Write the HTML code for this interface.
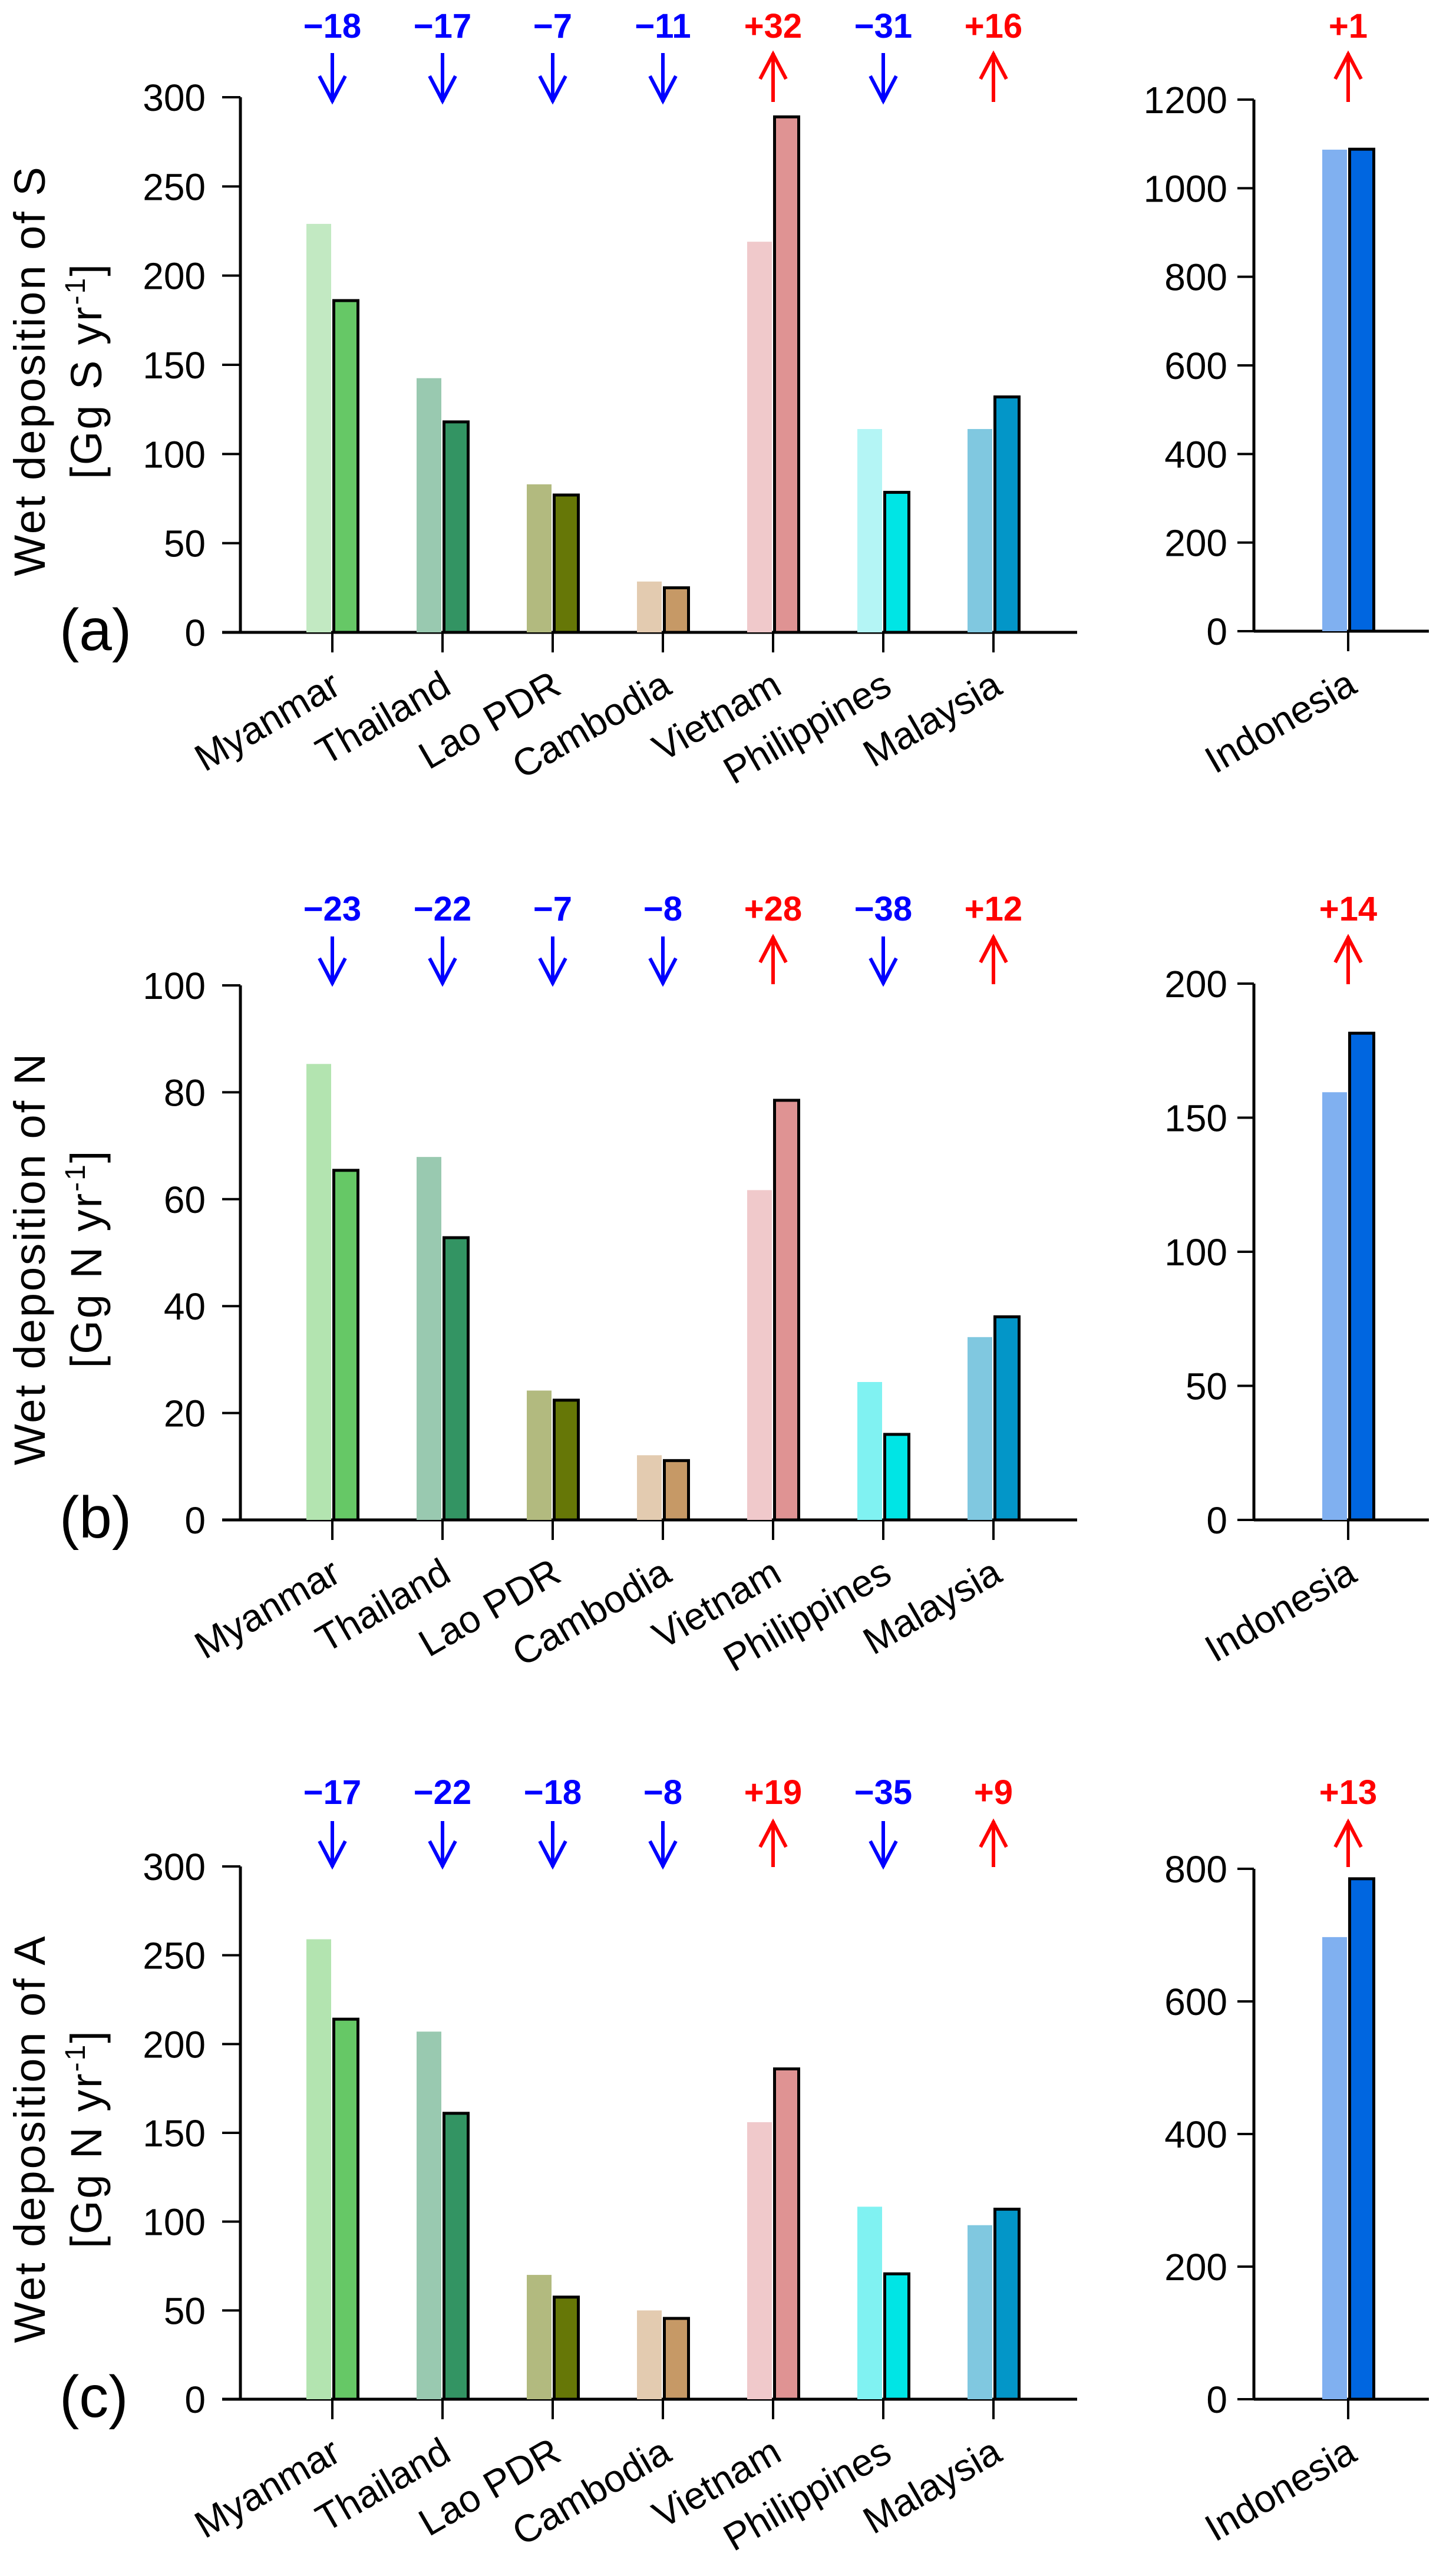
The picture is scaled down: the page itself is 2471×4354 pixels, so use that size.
<!DOCTYPE html>
<html><head><meta charset="utf-8"><style>
html,body{margin:0;padding:0;background:#fff}
svg{display:block}
text{font-family:"Liberation Sans",Arial,sans-serif}
</style></head><body>
<svg id="fig" width="2471" height="4354" viewBox="0 0 2471 4354" xmlns="http://www.w3.org/2000/svg"></svg>
<script>
const categories = ["Myanmar","Thailand","Lao PDR","Cambodia","Vietnam","Philippines","Malaysia"];
const rightCategory = ["Indonesia"];
const lightColors = ["#c2e9c2","#99c9b0","#b2ba7f","#e3cbb0","#f0c9cb","#b4f5f5","#80c8e0"];
const lightColorsBC = ["#b3e4b0","#99c9b0","#b2ba7f","#e3cbb0","#f0c9cb","#80f2f2","#80c8e0"];
const darkColors = ["#66c866","#339463","#667707","#c69966","#df9393","#00e5e5","#0396c8"];
const indoColors = ["#80b0f0","#0066e0"];

// Panel (a) sulfur
const aBase = [229,142.5,83,28.5,219,114,114];
const aNew  = [186,118,77,25,289,78.5,132];
const aIndo = [1087,1088];
const aPct  = ["−18","−17","−7","−11","+32","−31","+16"];
const aIndoPct = ["+1"];
const aTicks = [0,50,100,150,200,250,300];
const aTicksR = [0,200,400,600,800,1000,1200];
// Panel (b) nitrate
const bBase = [85.3,67.9,24.2,12.1,61.7,25.8,34.2];
const bNew  = [65.4,52.8,22.4,11.1,78.5,16,38];
const bIndo = [159.5,181.5];
const bPct  = ["−23","−22","−7","−8","+28","−38","+12"];
const bIndoPct = ["+14"];
const bTicks = [0,20,40,60,80,100];
const bTicksR = [0,50,100,150,200];
// Panel (c) ammonium
const cBase = [259,207,70,50,156,108.4,98];
const cNew  = [214,161,57.5,45.5,186,70.6,107];
const cIndo = [697,785];
const cPct  = ["−17","−22","−18","−8","+19","−35","+9"];
const cIndoPct = ["+13"];
const cTicks = [0,50,100,150,200,250,300];
const cTicksR = [0,200,400,600,800];

const NS="http://www.w3.org/2000/svg";
const svg=document.getElementById('fig');
function el(tag,attrs,parent,txt){const e=document.createElementNS(NS,tag);for(const k in attrs)e.setAttribute(k,attrs[k]);if(txt!==undefined)e.textContent=txt;(parent||svg).appendChild(e);return e;}

function arrow(g,x,yTop,yBot,up,color){
  el('line',{x1:x,y1:yTop,x2:x,y2:yBot,stroke:color,'stroke-width':6},g);
  if(up){el('polyline',{points:`${x-22},${yTop+44} ${x},${yTop+2} ${x+22},${yTop+44}`,fill:'none',stroke:color,'stroke-width':6},g);}
  else{el('polyline',{points:`${x-22},${yBot-44} ${x},${yBot-2} ${x+22},${yBot-44}`,fill:'none',stroke:color,'stroke-width':6},g);}
}

function panel(p){
  const g=el('g',{});
  
  
  const x0=408, xEnd=1828, c0=564, step=187;
  const yL=v=>p.y0-(v/p.max)*(p.y0-p.yTop);
  const yR=v=>p.y0r-(v/p.maxR)*(p.y0r-p.yTopR);
  const xC=i=>c0+i*step;
  const ax=el('g',{},g);
  
  
  el('line',{x1:x0,y1:yL(p.max),x2:x0,y2:p.y0,stroke:'#000','stroke-width':5},ax);
  p.ticks.forEach(t=>{
    el('line',{x1:377,y1:yL(t),x2:x0,y2:yL(t),stroke:'#000','stroke-width':4},ax);
    const tl=el('text',{x:349,y:yL(t)+23,'font-size':64,'text-anchor':'end'},ax,String(t));
    
    
  });
  const xa=el('line',{x1:377,y1:p.y0,x2:xEnd,y2:p.y0,stroke:'#000','stroke-width':5},g);
  
  
  categories.forEach((c,i)=>{
    const cx=xC(i);
    const b1=el('rect',{x:cx-44,y:yL(p.base[i]),width:42,height:p.y0-yL(p.base[i]),fill:p.light[i]},g);
    
    
    const b2=el('rect',{x:cx+2.5,y:yL(p.nw[i]),width:41,height:p.y0-yL(p.nw[i]),fill:darkColors[i],stroke:'#000','stroke-width':5},g);
    
    
    el('line',{x1:cx,y1:p.y0,x2:cx,y2:p.y0+34,stroke:'#000','stroke-width':4},g);
    const lb=el('text',{x:0,y:0,'font-size':65,'text-anchor':'end',transform:`translate(${cx+18},${p.y0+102}) rotate(-30)`},g,c);
    
    
    const up=p.pct[i].startsWith('+');
    const col=up?'#ff0000':'#0000ff';
    const pt=el('text',{x:cx,y:p.pctY,'font-size':58,'font-weight':'bold','text-anchor':'middle',fill:col},g,p.pct[i]);
    
    
    arrow(g,cx,p.arrTop,p.arrBot,up,col);
  });
  const xr=2128, xrEnd=2425, ci=2288;
  el('line',{x1:xr,y1:yR(p.maxR),x2:xr,y2:p.y0r,stroke:'#000','stroke-width':5},g);
  p.ticksR.forEach(t=>{
    el('line',{x1:xr-28,y1:yR(t),x2:xr,y2:yR(t),stroke:'#000','stroke-width':4},g);
    const tl=el('text',{x:xr-45,y:yR(t)+23,'font-size':64,'text-anchor':'end'},g,String(t));
    
    
  });
  el('line',{x1:xr,y1:p.y0r,x2:xrEnd,y2:p.y0r,stroke:'#000','stroke-width':5},g);
  const i1=el('rect',{x:ci-44,y:yR(p.indo[0]),width:42,height:p.y0r-yR(p.indo[0]),fill:indoColors[0]},g);
  
  
  const i2=el('rect',{x:ci+2.5,y:yR(p.indo[1]),width:41,height:p.y0r-yR(p.indo[1]),fill:indoColors[1],stroke:'#000','stroke-width':5},g);
  
  
  el('line',{x1:ci,y1:p.y0r,x2:ci,y2:p.y0r+34,stroke:'#000','stroke-width':4},g);
  const il=el('text',{x:0,y:0,'font-size':65,'text-anchor':'end',transform:`translate(${ci+18},${p.y0r+102}) rotate(-30)`},g,rightCategory[0]);
  
  
  const upI=p.indoPct[0].startsWith('+');
  const colI=upI?'#ff0000':'#0000ff';
  const ip=el('text',{x:ci,y:p.pctY,'font-size':58,'font-weight':'bold','text-anchor':'middle',fill:colI},g,p.indoPct[0]);
  
  
  arrow(g,ci,p.arrTop,p.arrBot,upI,colI);
  const cy=(p.yTop+p.y0)/2+10;
  const t1=el('text',{x:0,y:0,'font-size':74,'letter-spacing':3,'text-anchor':'middle',transform:`translate(76,${cy}) rotate(-90)`},g,p.title);
  
  
  const t2=el('text',{x:0,y:0,'font-size':74,'letter-spacing':3,'text-anchor':'middle',transform:`translate(172,${cy}) rotate(-90)`},g);
  
  
  el('tspan',{},t2,p.unit);
  el('tspan',{dy:-28,'font-size':48},t2,'-1');
  el('tspan',{dy:28},t2,']');
  const pl=el('text',{x:101,y:p.y0+30,'font-size':100},g,'('+p.id+')');
  
  
}

panel({id:'a',y0:1073,yTop:165,max:300,y0r:1071,yTopR:169,maxR:1200,base:aBase,nw:aNew,indo:aIndo,pct:aPct,indoPct:aIndoPct,ticks:aTicks,ticksR:aTicksR,light:lightColors,pctY:64,arrTop:90,arrBot:173,title:'Wet deposition of S',unit:'[Gg S yr'});
panel({id:'b',y0:2579,yTop:1672,max:100,y0r:2579,yTopR:1669,maxR:200,base:bBase,nw:bNew,indo:bIndo,pct:bPct,indoPct:bIndoPct,ticks:bTicks,ticksR:bTicksR,light:lightColorsBC,pctY:1562,arrTop:1589,arrBot:1670,title:'Wet deposition of N',unit:'[Gg N yr'});
panel({id:'c',y0:4071,yTop:3167,max:300,y0r:4071,yTopR:3171,maxR:800,base:cBase,nw:cNew,indo:cIndo,pct:cPct,indoPct:cIndoPct,ticks:cTicks,ticksR:cTicksR,light:lightColorsBC,pctY:3061,arrTop:3090,arrBot:3168,title:'Wet deposition of A',unit:'[Gg N yr'});
</script>
</body></html>
